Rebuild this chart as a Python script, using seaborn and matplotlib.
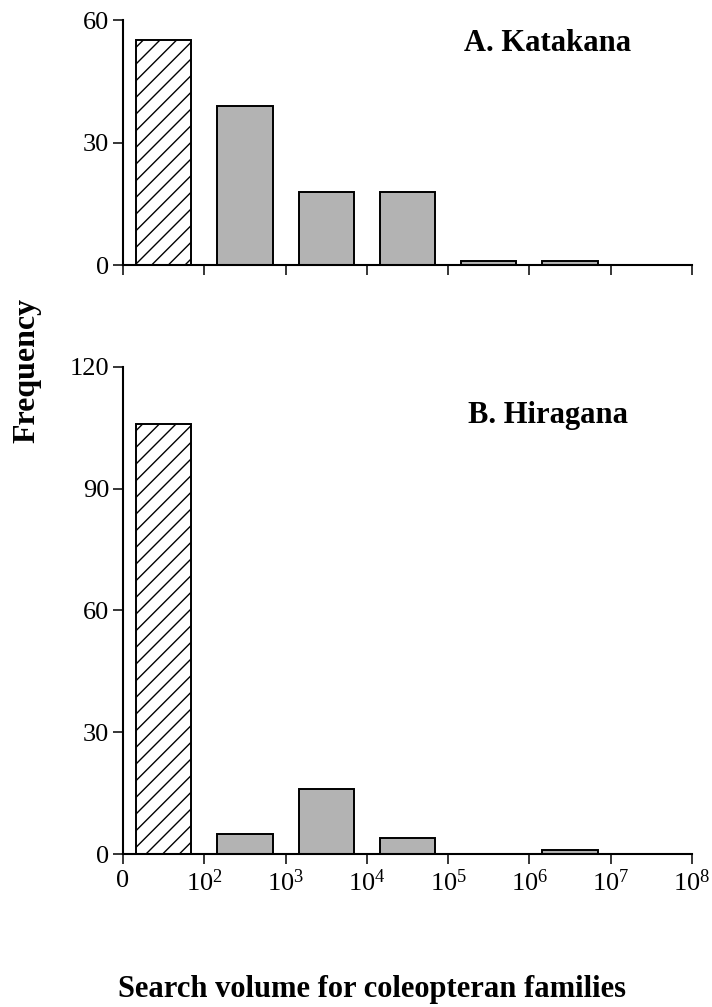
import matplotlib
matplotlib.use("Agg")
import matplotlib.pyplot as plt
import seaborn as sns
import pandas as pd

# Data
bins = ["0-1e2", "1e2-1e3", "1e3-1e4", "1e4-1e5", "1e5-1e6", "1e6-1e7", "1e7-1e8"]
katakana = [55, 39, 18, 18, 1, 1, 0]
hiragana = [106, 5, 16, 4, 0, 1, 0]
xtick_labels = ["0", "$10^2$", "$10^3$", "$10^4$", "$10^5$", "$10^6$", "$10^7$", "$10^8$"]

sns.set_style("ticks")
plt.rcParams['font.family'] = ['Liberation Serif', 'DejaVu Serif']
plt.rcParams['mathtext.fontset'] = 'custom'
plt.rcParams['mathtext.rm'] = 'Liberation Serif'
plt.rcParams['mathtext.it'] = 'Liberation Serif'
plt.rcParams['hatch.linewidth'] = 1.0
plt.rcParams['text.color'] = 'black'
plt.rcParams['xtick.color'] = 'black'
plt.rcParams['ytick.color'] = 'black'
plt.rcParams['axes.edgecolor'] = 'black'

fig = plt.figure(figsize=(7.12, 10.07), dpi=100)
ax_a = fig.add_axes([0.1728, 0.7368, 0.7991, 0.2433])
ax_b = fig.add_axes([0.1728, 0.1516, 0.7991, 0.4843])


def draw_panel(ax, values, ymax, yticks, title, title_y):
    df = pd.DataFrame({'bin': bins, 'count': values})
    sns.barplot(data=df, x='bin', y='count', order=bins, color='#b3b3b3',
                edgecolor='black', linewidth=1.4, width=0.68, saturation=1, ax=ax)
    first = ax.patches[0]
    first.set_facecolor('white')
    first.set_hatch('//')
    ax.set_xlim(-0.5, len(bins) - 0.5)
    ax.set_ylim(0, ymax)
    ax.set_yticks(yticks)
    ax.set_xticks([i - 0.5 for i in range(len(bins) + 1)])
    ax.set_xlabel('')
    ax.set_ylabel('')
    sns.despine(ax=ax)
    for s in ['left', 'bottom']:
        ax.spines[s].set_linewidth(1.5)
    ax.tick_params(axis='both', length=7, width=1.1, labelsize=19, pad=3,
                   colors='black')
    ax.text(0.747, title_y, title, transform=ax.transAxes, ha='center', va='center',
            fontsize=22, fontweight='bold')


draw_panel(ax_a, katakana, 60, [0, 30, 60], 'A. Katakana', 0.905)
ax_a.set_xticklabels([])
draw_panel(ax_b, hiragana, 120, [0, 30, 60, 90, 120], 'B. Hiragana', 0.90)
ax_b.set_xticklabels(xtick_labels)
ax_b.tick_params(axis='x', pad=4)

fig.text(0.038, 0.632, 'Frequency', rotation=90, ha='center', va='center',
         fontsize=23, fontweight='bold')
fig.text(0.522, 0.017, 'Search volume for coleopteran families', ha='center', va='center',
         fontsize=22, fontweight='bold')

fig.savefig('out.png', dpi=100)
